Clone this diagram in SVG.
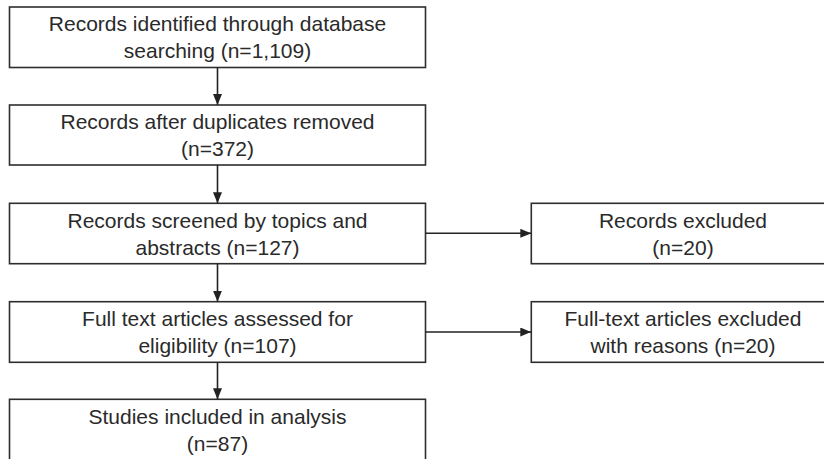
<svg xmlns="http://www.w3.org/2000/svg" width="824" height="459" viewBox="0 0 824 459">
<defs>
<marker id="ah" markerWidth="11" markerHeight="9" refX="11" refY="4.5" orient="auto" markerUnits="userSpaceOnUse">
<path d="M0,0 L11,4.5 L0,9 Z" fill="#222"/>
</marker>
<style>
.box{fill:#fff;stroke:#2e2e2e;stroke-width:1.6}
.t{font-family:"Liberation Sans",Arial,sans-serif;font-size:21px;fill:#2a2a2a;text-anchor:middle}
.c{stroke:#222;stroke-width:1.6;fill:none}
</style>
</defs>
<rect width="824" height="459" fill="#fff"/>
<g id="n1"><rect class="box" x="9.5" y="7" width="416" height="60.5"/>
<text class="t" x="217.5" y="31">Records identified through database</text>
<text class="t" x="217.5" y="58">searching (n=1,109)</text></g>
<g id="n2"><rect class="box" x="9.5" y="105" width="416" height="60"/>
<text class="t" x="217.5" y="129">Records after duplicates removed</text>
<text class="t" x="217.5" y="156">(n=372)</text></g>
<g id="n3"><rect class="box" x="9.5" y="203.3" width="416" height="60.4"/>
<text class="t" x="217.5" y="227.5">Records screened by topics and</text>
<text class="t" x="217.5" y="254.5">abstracts (n=127)</text></g>
<g id="n4"><rect class="box" x="9.5" y="301.7" width="416" height="60.6"/>
<text class="t" x="217.5" y="326">Full text articles assessed for</text>
<text class="t" x="217.5" y="353">eligibility (n=107)</text></g>
<g id="n5"><rect class="box" x="9.5" y="399.3" width="416" height="70"/>
<text class="t" x="217.5" y="424">Studies included in analysis</text>
<text class="t" x="217.5" y="451">(n=87)</text></g>
<g id="n6"><rect class="box" x="531.3" y="203.3" width="304" height="60.4"/>
<text class="t" x="683" y="227.5">Records excluded</text>
<text class="t" x="683" y="254.5">(n=20)</text></g>
<g id="n7"><rect class="box" x="531.3" y="301.7" width="304" height="60.6"/>
<text class="t" x="683" y="326">Full-text articles excluded</text>
<text class="t" x="683" y="353">with reasons (n=20)</text></g>
<g id="connectors">
<line class="c" x1="217.5" y1="67.5" x2="217.5" y2="105" marker-end="url(#ah)"/>
<line class="c" x1="217.5" y1="165" x2="217.5" y2="203.3" marker-end="url(#ah)"/>
<line class="c" x1="217.5" y1="263.7" x2="217.5" y2="301.7" marker-end="url(#ah)"/>
<line class="c" x1="217.5" y1="362.3" x2="217.5" y2="399.3" marker-end="url(#ah)"/>
<line class="c" x1="425.5" y1="233.3" x2="531.3" y2="233.3" marker-end="url(#ah)"/>
<line class="c" x1="425.5" y1="332" x2="531.3" y2="332" marker-end="url(#ah)"/>
</g>
</svg>
